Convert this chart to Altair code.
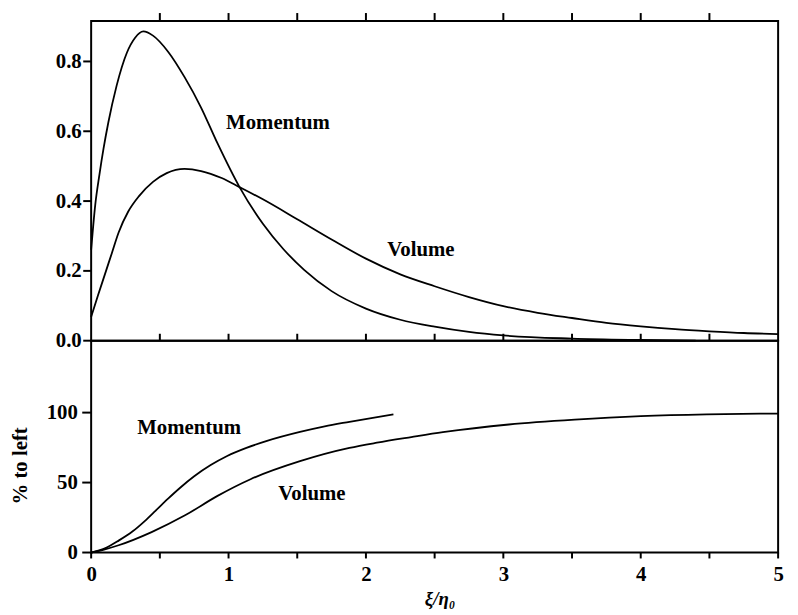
import altair as alt
import pandas as pd

# ---------------- data ----------------
mom_top_x = [0, 0.03, 0.06, 0.09, 0.125, 0.185, 0.26, 0.32, 0.38, 0.45, 0.56, 0.68,
             0.8, 0.92, 1.08, 1.25, 1.4, 1.55, 1.75, 2.0, 2.25, 2.5, 2.75, 3.0, 3.5, 4.0, 4.4]
mom_top_y = [0.26, 0.39, 0.475, 0.55, 0.625, 0.73, 0.825, 0.868, 0.886, 0.874, 0.828, 0.755,
             0.668, 0.565, 0.44, 0.335, 0.262, 0.203, 0.142, 0.092, 0.06, 0.04, 0.025, 0.015, 0.006, 0.002, 0.0]

vol_top_x = [0, 0.05, 0.1, 0.15, 0.2, 0.27, 0.35, 0.45, 0.55, 0.68, 0.8, 0.95, 1.08, 1.25,
             1.5, 1.75, 2.0, 2.25, 2.5, 2.75, 3.0, 3.25, 3.5, 3.75, 4.0, 4.25, 4.5, 4.75, 5.0]
vol_top_y = [0.068, 0.13, 0.19, 0.25, 0.31, 0.37, 0.415, 0.455, 0.48, 0.492, 0.486, 0.466, 0.44, 0.405,
             0.348, 0.29, 0.235, 0.19, 0.156, 0.125, 0.099, 0.08, 0.065, 0.051, 0.041, 0.033, 0.027, 0.022, 0.019]

mom_cum_x = [0, 0.1, 0.2, 0.3, 0.39, 0.47, 0.56, 0.65, 0.75, 0.87, 0.99, 1.13, 1.28, 1.52, 1.7, 1.88, 2.05, 2.2]
mom_cum_y = [0, 3, 8.5, 15, 22.5, 30, 38.5, 46.5, 54.5, 62.5, 69, 74.8, 79.8, 86.2, 90.2, 93.4, 96.3, 98.8]

vol_cum_x = [0, 0.1, 0.2, 0.44, 0.68, 0.92, 1.16, 1.52, 1.88, 2.08, 2.33, 2.56, 3.04, 3.52, 4.0, 4.48, 5.0]
vol_cum_y = [0, 2.3, 5.2, 14.6, 26.4, 40.5, 52.4, 65.3, 74.8, 78.5, 82.5, 86, 91.5, 95, 97.5, 98.8, 99.3]

top_label_text = ["Momentum", "Volume"]
top_label_x = [1.36, 2.4]
top_label_y = [0.624, 0.26]
bot_label_text = ["Momentum", "Volume"]
bot_label_x = [0.713, 1.607]
bot_label_y = [89, 41.8]

x_ticks = [0, 0.5, 1, 1.5, 2, 2.5, 3, 3.5, 4, 4.5, 5]
top_y_ticks = [0, 0.2, 0.4, 0.6, 0.8]
bot_y_ticks = [0, 50, 100]

# ---------------- tables ----------------
top_df = pd.concat([
    pd.DataFrame({"x": mom_top_x, "y": mom_top_y, "s": "Momentum"}),
    pd.DataFrame({"x": vol_top_x, "y": vol_top_y, "s": "Volume"}),
])
bot_df = pd.concat([
    pd.DataFrame({"x": mom_cum_x, "y": mom_cum_y, "s": "Momentum"}),
    pd.DataFrame({"x": vol_cum_x, "y": vol_cum_y, "s": "Volume"}),
])
top_lab = pd.DataFrame({"x": top_label_x, "y": top_label_y, "t": top_label_text})
bot_lab = pd.DataFrame({"x": bot_label_x, "y": bot_label_y, "t": bot_label_text})
xt_all = pd.DataFrame({"v": x_ticks})
xt_inner = pd.DataFrame({"v": x_ticks[1:-1]})
yt_top = pd.DataFrame({"v": top_y_ticks})
yt_bot = pd.DataFrame({"v": bot_y_ticks})

FONT = "Liberation Serif"
W = 694
H_TOP = 323
H_BOT = 214

x_scale = alt.Scale(domain=[0, 5], nice=False, zero=False)
y_top_scale = alt.Scale(domain=[0, 0.916], nice=False)
y_bot_scale = alt.Scale(domain=[0, 151.4], nice=False)

y_top_axis = alt.Axis(values=top_y_ticks, format=".1f", title=None, ticks=False,
                      labelPadding=10, domain=False)
y_bot_axis = alt.Axis(values=bot_y_ticks, format="d", title="% to left", ticks=False,
                      labelPadding=14, domain=False, titlePadding=16, titleY=126,
                      titleFontSize=21)
bot_x_axis = alt.Axis(orient="bottom", values=x_ticks, ticks=False, labelPadding=11,
                      labelFlush=False, domain=False, title="ξ/η₀", titlePadding=6,
                      titleX=352,
                      labelExpr="datum.value % 1 == 0 ? format(datum.value, 'd') : ''")

line_kw = dict(color="black", strokeWidth=1.8, interpolate="monotone")
text_kw = dict(font=FONT, fontSize=21, fontWeight="bold", color="black",
               align="center", baseline="middle")
tick_kw = dict(color="black", strokeWidth=2)

# ---------------- upper panel ----------------
xt_top = alt.X("x:Q", scale=x_scale, axis=None)
yt_top_enc = alt.Y("y:Q", scale=y_top_scale, axis=y_top_axis)

top_lines = alt.Chart(top_df).mark_line(**line_kw).encode(x=xt_top, y=yt_top_enc, detail="s:N")
top_text = alt.Chart(top_lab).mark_text(**text_kw).encode(x=xt_top, y=yt_top_enc, text="t:N")
# tick marks: outward along top edge, inward along the shared base line, outward on the left
top_edge_ticks = alt.Chart(xt_inner).mark_rule(**tick_kw).encode(
    x=alt.X("v:Q", scale=x_scale, axis=None), y=alt.value(0), y2=alt.value(-8))
top_base_ticks = alt.Chart(xt_inner).mark_rule(**tick_kw).encode(
    x=alt.X("v:Q", scale=x_scale, axis=None), y=alt.value(H_TOP), y2=alt.value(H_TOP - 7))
top_left_ticks = alt.Chart(yt_top).mark_rule(**tick_kw).encode(
    y=alt.Y("v:Q", scale=y_top_scale, axis=y_top_axis), x=alt.value(0), x2=alt.value(-8))

top = alt.layer(top_lines, top_text, top_edge_ticks, top_base_ticks, top_left_ticks).properties(
    width=W, height=H_TOP)

# ---------------- lower panel ----------------
xb = alt.X("x:Q", scale=x_scale, axis=bot_x_axis)
yb = alt.Y("y:Q", scale=y_bot_scale, axis=y_bot_axis)
bot_lines = alt.Chart(bot_df).mark_line(**line_kw).encode(x=xb, y=yb, detail="s:N")
bot_text = alt.Chart(bot_lab).mark_text(**text_kw).encode(x=xb, y=yb, text="t:N")
bot_base_ticks = alt.Chart(xt_all).mark_rule(**tick_kw).encode(
    x=alt.X("v:Q", scale=x_scale, axis=bot_x_axis), y=alt.value(H_BOT), y2=alt.value(H_BOT + 6))
bot_left_ticks = alt.Chart(yt_bot).mark_rule(**tick_kw).encode(
    y=alt.Y("v:Q", scale=y_bot_scale, axis=y_bot_axis), x=alt.value(0), x2=alt.value(-9))

bottom = alt.layer(bot_lines, bot_text, bot_base_ticks, bot_left_ticks).properties(
    width=W, height=H_BOT)

chart = alt.vconcat(top, bottom, spacing=0, bounds="flush").properties(
    padding={"left": 0, "top": 0, "right": 5, "bottom": 0}
).configure_view(
    stroke="black", strokeWidth=2
).configure_axis(
    grid=False,
    labelFont=FONT, labelFontSize=21, labelFontWeight="bold", labelColor="black",
    titleFont=FONT, titleFontSize=20, titleFontWeight="bold", titleColor="black",
).configure_axisBottom(
    titleFontStyle="italic", titleFontSize=19
)

chart.save("out.html", embed_options={"renderer": "svg", "actions": False})
